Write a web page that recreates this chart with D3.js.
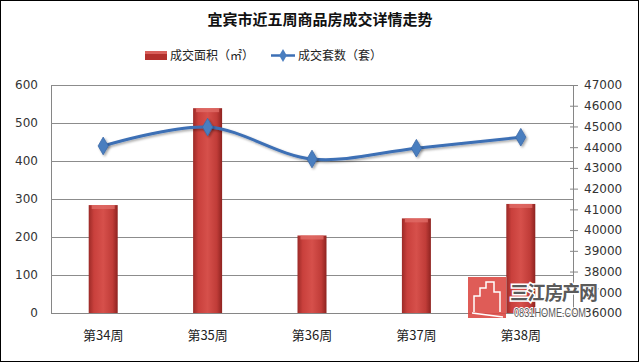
<!DOCTYPE html>
<html>
<head>
<meta charset="utf-8">
<script src="https://cdn.jsdelivr.net/npm/d3@7"></script>
<style>
  body { margin: 0; background: #fff; }
  svg text { font-family: "Noto Sans CJK SC", "DejaVu Sans", sans-serif; }
</style>
</head>
<body>
<div id="chart"></div>
<script>
var weeks = ["第34周", "第35周", "第36周", "第37周", "第38周"];
var area = [284, 539, 204, 249, 287];          // 成交面积（㎡）
var units = [44060, 44970, 43430, 43950, 44480]; // 成交套数（套）
var leftTicks = [0, 100, 200, 300, 400, 500, 600];
var rightTicks = [36000, 37000, 38000, 39000, 40000, 41000, 42000, 43000, 44000, 45000, 46000, 47000];

var W = 640, H = 363;
var margin = {top: 85, right: 67, bottom: 50, left: 51};
var width = W - margin.left - margin.right,
    height = H - margin.top - margin.bottom;

var svg = d3.select("#chart").append("svg")
    .attr("width", W)
    .attr("height", H);

var defs = svg.append("defs");
var grad = defs.append("linearGradient").attr("id", "barGrad")
    .attr("x1", "0").attr("x2", "1").attr("y1", "0").attr("y2", "0");
grad.append("stop").attr("offset", "0%").attr("stop-color", "#9c2a27");
grad.append("stop").attr("offset", "18%").attr("stop-color", "#c9403c");
grad.append("stop").attr("offset", "50%").attr("stop-color", "#d6504b");
grad.append("stop").attr("offset", "82%").attr("stop-color", "#c03c38");
grad.append("stop").attr("offset", "100%").attr("stop-color", "#8e2320");

var shadow = defs.append("filter").attr("id", "shadow")
    .attr("x", "-50%").attr("y", "-50%").attr("width", "200%").attr("height", "200%");
shadow.append("feDropShadow").attr("dx", 1.5).attr("dy", 1.5)
    .attr("stdDeviation", 1.2).attr("flood-color", "#000").attr("flood-opacity", 0.35);

// outer frame
svg.append("rect")
    .attr("x", 0.5).attr("y", 0.5)
    .attr("width", W - 2).attr("height", H - 2)
    .attr("fill", "#fff").attr("stroke", "#000");

// title
svg.append("text")
    .attr("x", 320).attr("y", 25)
    .attr("text-anchor", "middle")
    .attr("font-size", 15).attr("font-weight", "bold")
    .attr("fill", "#111")
    .text("宜宾市近五周商品房成交详情走势");

// legend
var legend = svg.append("g");
legend.append("rect")
    .attr("x", 145).attr("y", 51).attr("width", 22).attr("height", 9)
    .attr("fill", "#b3302c");
legend.append("rect")
    .attr("x", 145).attr("y", 51).attr("width", 22).attr("height", 3)
    .attr("fill", "#d9605b");
legend.append("text")
    .attr("x", 170).attr("y", 60)
    .attr("font-size", 12).attr("fill", "#222")
    .text("成交面积（㎡）");
legend.append("line")
    .attr("x1", 271).attr("x2", 295).attr("y1", 55.5).attr("y2", 55.5)
    .attr("stroke", "#3d6fb5").attr("stroke-width", 2.5);
legend.append("path")
    .attr("transform", "translate(283,55.5)")
    .attr("d", d3.symbol(d3.symbolDiamond, 50)())
    .attr("fill", "#4a7ebf");
legend.append("text")
    .attr("x", 298).attr("y", 60)
    .attr("font-size", 12).attr("fill", "#222")
    .text("成交套数（套）");

var g = svg.append("g")
    .attr("transform", "translate(" + margin.left + "," + margin.top + ")");

var xScale = d3.scaleBand().domain(weeks).range([0, width]);
var yLeft = d3.scaleLinear().domain([0, 600]).range([height, 0]);
var yRight = d3.scaleLinear().domain([36000, 47000]).range([height, 0]);

// gridlines + left axis
var yAxisL = d3.axisLeft(yLeft)
    .tickValues(leftTicks)
    .tickSize(-width)
    .tickPadding(13);
var gl = g.append("g").call(yAxisL);
gl.select(".domain").attr("stroke", "#868686");
gl.selectAll(".tick line").attr("stroke", "#8c8c8c");
gl.selectAll(".tick text").attr("font-size", 12).attr("fill", "#333")
    .style("font-family", "'DejaVu Sans', sans-serif");

// right axis
var yAxisR = d3.axisRight(yRight)
    .tickValues(rightTicks)
    .tickSize(5)
    .tickPadding(6)
    .tickFormat(d3.format("d"));
var gr = g.append("g")
    .attr("transform", "translate(" + width + ",0)")
    .call(yAxisR);
gr.select(".domain").attr("stroke", "#868686");
gr.selectAll(".tick line").attr("stroke", "#868686").attr("x1", -3);
gr.selectAll(".tick text").attr("font-size", 12).attr("fill", "#333")
    .style("font-family", "'DejaVu Sans', sans-serif");

// bottom axis
var xAxis = d3.axisBottom(xScale).tickSize(0).tickPadding(18);
var gx = g.append("g")
    .attr("transform", "translate(0," + height + ")")
    .call(xAxis);
gx.select(".domain").attr("stroke", "#868686");
gx.selectAll(".tick text").attr("font-size", 13).attr("fill", "#222");

// bars
var barW = 29;
var bars = g.selectAll(".bar").data(weeks).enter().append("g");
bars.append("rect")
    .attr("x", function(d) { return xScale(d) + xScale.bandwidth() / 2 - barW / 2; })
    .attr("y", function(d, i) { return yLeft(area[i]); })
    .attr("width", barW)
    .attr("height", function(d, i) { return height - yLeft(area[i]); })
    .attr("fill", "url(#barGrad)");
bars.append("rect")
    .attr("x", function(d) { return xScale(d) + xScale.bandwidth() / 2 - barW / 2 + 3; })
    .attr("y", function(d, i) { return yLeft(area[i]); })
    .attr("width", barW - 6)
    .attr("height", 4)
    .attr("fill", "#e06b66")
    .attr("opacity", 0.8);

// line
var pts = weeks.map(function(d, i) {
    return [xScale(d) + xScale.bandwidth() / 2, yRight(units[i])];
});
var line = d3.line().curve(d3.curveCatmullRom.alpha(0.5));
g.append("path")
    .attr("d", line(pts))
    .attr("fill", "none")
    .attr("stroke", "#3d6fb5")
    .attr("stroke-width", 3)
    .attr("filter", "url(#shadow)");
g.selectAll(".marker").data(pts).enter().append("path")
    .attr("transform", function(d) { return "translate(" + d[0] + "," + d[1] + ")"; })
    .attr("d", d3.symbol(d3.symbolDiamond, 90)())
    .attr("fill", "#4a7ebf")
    .attr("stroke", "#3b69a8")
    .attr("stroke-width", 0.8)
    .attr("filter", "url(#shadow)");

// watermark (sits over the lowest right-axis labels, as in the source image)
var wm = svg.append("g");
wm.append("rect")
    .attr("x", 468).attr("y", 277).attr("width", 38).attr("height", 41)
    .attr("fill", "#dc4a45").attr("opacity", 0.9);
wm.append("path")
    .attr("d", "M474,312 L474,296 L480,296 L480,288 L486,288 L486,282 L494,282 L494,292 L500,292 L500,312 M472,313 L503,317")
    .attr("fill", "none").attr("stroke", "#fff").attr("stroke-width", 1.5);
wm.append("text")
    .attr("x", 510).attr("y", 300)
    .attr("font-size", 19).attr("font-weight", "bold")
    .attr("textLength", 88)
    .attr("fill", "#5a5a5a")
    .attr("stroke", "#fff").attr("stroke-width", 3)
    .attr("paint-order", "stroke")
    .text("三江房产网");
wm.append("text")
    .attr("x", 514).attr("y", 317)
    .attr("font-size", 12)
    .attr("fill", "#5a5a5a")
    .attr("textLength", 72)
    .attr("lengthAdjust", "spacingAndGlyphs")
    .attr("stroke", "#fff").attr("stroke-width", 2)
    .attr("paint-order", "stroke")
    .style("font-family", "'Liberation Sans', sans-serif")
    .text("0831HOME.COM");
</script>
</body>
</html>
